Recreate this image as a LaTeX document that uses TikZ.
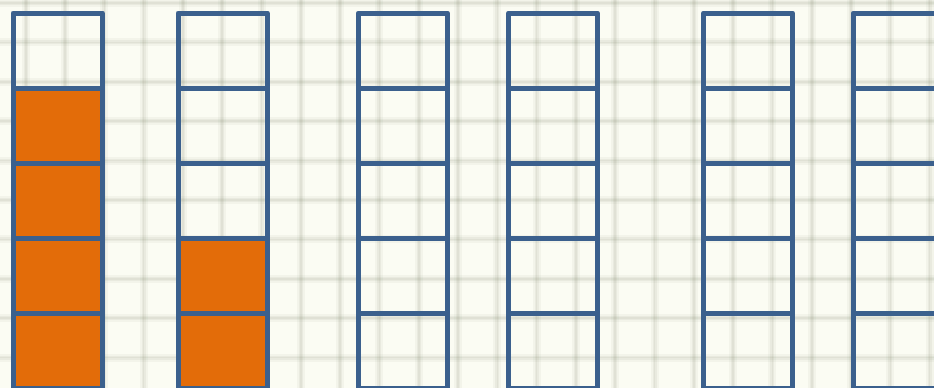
\documentclass[tikz,border=0pt]{standalone}
\usetikzlibrary{calc}
\definecolor{bgcream}{RGB}{251,252,243}
\definecolor{gridc}{RGB}{120,126,100}
\definecolor{cellblue}{RGB}{59,96,141}
\definecolor{cellorange}{RGB}{227,108,9}
\tikzset{
  gridwide/.style={draw=gridc, line width=8pt, opacity=0.06},
  gridmid/.style={draw=gridc, line width=4pt, opacity=0.08},
  gridcore/.style={draw=gridc, line width=1.6pt, opacity=0.08},
  cell/.style={rectangle, draw=cellblue, line width=5pt, line join=round,
    minimum width=89.3pt, minimum height=75pt, inner sep=0pt, outer sep=0pt,
    anchor=north west},
  emptycell/.style={cell},
  fullcell/.style={cell, fill=cellorange}
}
\begin{document}
\begin{tikzpicture}[x=1pt,y=-1pt]
\useasboundingbox (0,0) rectangle (934,388);
\fill[bgcream] (0,0) rectangle (934,388);
\begin{scope}
\clip (0,0) rectangle (934,388);
% background grid paper
\foreach \i in {0,...,23} {
  \pgfmathsetmacro{\gx}{25.7+39.3*\i}
  \draw[gridwide] (\gx,0) -- (\gx,388);
  \draw[gridmid] (\gx,0) -- (\gx,388);
  \draw[gridcore] (\gx,0) -- (\gx,388);
}
\foreach \j in {0,...,9} {
  \pgfmathsetmacro{\gy}{3+39.4*\j}
  \draw[gridwide] (0,\gy) -- (934,\gy);
  \draw[gridmid] (0,\gy) -- (934,\gy);
  \draw[gridcore] (0,\gy) -- (934,\gy);
}
% columns of cells
\foreach \c/\cx/\nfull in {1/13/4, 2/178/2, 3/358.2/0, 4/508.3/0, 5/703.3/0, 6/853.2/0} {
  \foreach \r in {1,...,5} {
    \pgfmathtruncatemacro{\isfull}{(\r > 5-\nfull) ? 1 : 0}
    \pgfmathsetmacro{\cy}{13+75*(\r-1)}
    \ifnum\isfull=1
      \node[fullcell] (c\c r\r) at (\cx,\cy) {};
    \else
      \node[emptycell] (c\c r\r) at (\cx,\cy) {};
    \fi
  }
}
\end{scope}
\end{tikzpicture}
\end{document}
